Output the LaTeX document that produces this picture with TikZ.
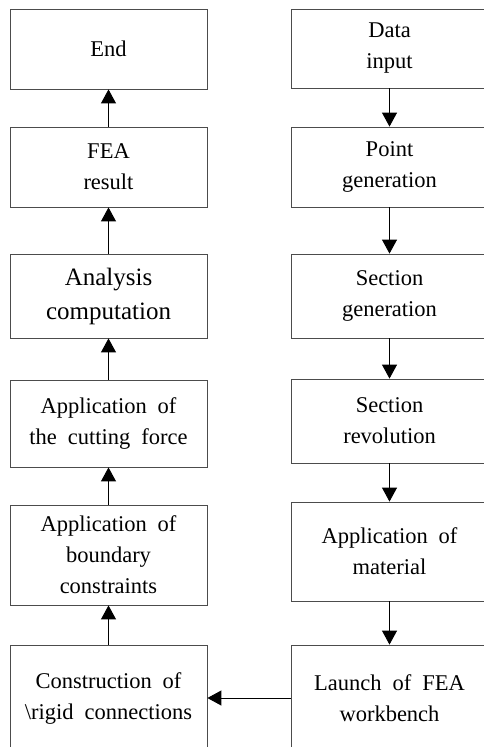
\documentclass[tikz,border=0pt]{standalone}
\usepackage{fontspec}
\setmainfont{Liberation Serif}
\usetikzlibrary{arrows.meta}

\begin{document}
\begin{tikzpicture}[x=1pt, y=1pt]
	\tikzstyle{every node}=[draw=black!70, line width=0.8pt, minimum width=197pt, align=center, font=\fontsize{22.5}{31}\selectfont, execute at begin node={\spaceskip=11pt plus 2pt\relax}]
	\tikzstyle{flow}=[line width=1pt, -{Triangle[length=14pt, width=15pt]}]

	\useasboundingbox (0, 0) rectangle (484, -747);
	\clip (0, 0) rectangle (484, -747);

	% left column
	% end
	\node[minimum height=80pt](End) at (108.5, -49) {End};
	% fea result
	\node[minimum height=80pt](FEA_Result) at (108.5, -167) {FEA\\result};
	% analysis
	\node[minimum height=84pt, font=\fontsize{25}{34}\selectfont](Analysis) at (108.5, -296) {Analysis\\computation};
	% cutting force
	\node[minimum height=87pt](Cutting_Force) at (108.5, -423.5) {Application of\\the cutting force};
	% boundary
	\node[minimum height=100pt](Boundary) at (108.5, -555) {Application of\\boundary\\constraints};
	% rigid connections
	\node[minimum height=106pt](Rigid_Conn) at (108.5, -698) {Construction of\\\textbackslash rigid connections};

	% right column
	% data input
	\node[minimum height=79pt](Data_Input) at (389.5, -48.5) {Data\\input};
	% point generation
	\node[minimum height=80pt](Point_Gen) at (389.5, -167) {Point\\generation};
	% section generation
	\node[minimum height=84pt](Section_Gen) at (389.5, -296) {Section\\generation};
	% section revolution
	\node[minimum height=84pt](Section_Rev) at (389.5, -421) {Section\\revolution};
	% material
	\node[minimum height=99pt](Material) at (389.5, -551.5) {Application of\\material};
	% workbench
	\node[minimum height=106pt](Workbench) at (389.5, -698) {Launch of FEA\\workbench};

	% lines
	% right column, downwards
	\draw[flow](Data_Input)--(Point_Gen);
	\draw[flow](Point_Gen)--(Section_Gen);
	\draw[flow](Section_Gen)--(Section_Rev);
	\draw[flow](Section_Rev)--(Material);
	\draw[flow](Material)--(Workbench);
	% across
	\draw[flow](Workbench)--(Rigid_Conn);
	% left column, upwards
	\draw[flow](Rigid_Conn)--(Boundary);
	\draw[flow](Boundary)--(Cutting_Force);
	\draw[flow](Cutting_Force)--(Analysis);
	\draw[flow](Analysis)--(FEA_Result);
	\draw[flow](FEA_Result)--(End);
\end{tikzpicture}
\end{document}
